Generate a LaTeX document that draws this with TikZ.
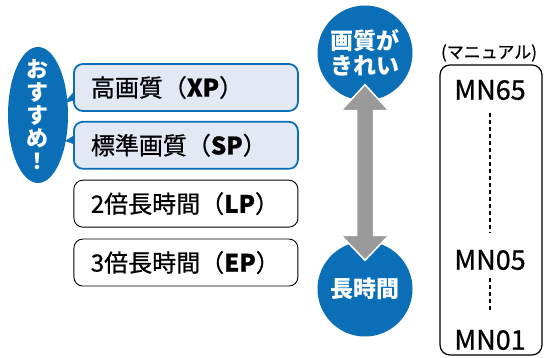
\documentclass[tikz,border=0pt]{standalone}
\usepackage{fontspec}
\setmainfont{Noto Sans CJK JP}
\newfontfamily\boxfont{Noto Sans CJK JP}[FakeBold=0.8]
\usetikzlibrary{positioning, shapes.geometric, calc}
\definecolor{recblue}{HTML}{0B6FB8}
\definecolor{reclight}{HTML}{E2E9F5}
\definecolor{arrowgray}{HTML}{9A9A9A}
\tikzset{
    modebox/.style={draw, rounded corners=9pt, minimum height=47pt, inner xsep=8pt,
        text width=208pt, align=left, anchor=west, execute at begin node={\hspace*{9pt}},
        font=\boxfont\fontsize{24}{24}\selectfont},
    recbox/.style={modebox, draw=recblue, line width=1.8pt, fill=reclight},
    plainbox/.style={modebox, draw=black, line width=0.9pt},
    badge/.style={circle, fill=recblue, minimum size=95pt, inner sep=0pt, text=white,
        align=center, font=\bfseries\fontsize{23}{25}\selectfont},
    mnlabel/.style={font=\boxfont\fontsize{27}{27}\selectfont},
    mndots/.style={line width=2.6pt, dash pattern=on 4pt off 3pt}
}

\begin{document}
\begin{tikzpicture}[x=1pt, y=-1pt]
    \useasboundingbox (0,0) rectangle (544,358);
    % recording modes
    \node[recbox] (xp) at (73,87.5) {高画質（\textbf{XP}）};
    \node[recbox, below=9pt of xp] (sp) {標準画質（\textbf{SP}）};
    \node[plainbox, below=10pt of sp] (lp) {2倍長時間（\textbf{LP}）};
    \node[plainbox, below=11pt of lp] (ep) {3倍長時間（\textbf{EP}）};
    % recommended badge
    \node[ellipse, fill=recblue, minimum width=60pt, minimum height=136pt, inner sep=0pt] (osusume) at (38,115) {};
    \node[text=white, align=center, font=\bfseries\fontsize{22}{23}\selectfont] (osusumetext) at (osusume.center) {お\\す\\す\\め\\！};
    \fill[recblue] ($(xp.west)+(1,4)$) -- ($(xp.west)+(1,13)$) -- (64,103) -- cycle;
    \fill[recblue] ($(sp.west)+(1,-10)$) -- ($(sp.west)+(1,-1)$) -- (65,141) -- cycle;
    % quality scale
    \node[badge] (good) at (365,53) {画質が\\きれい};
    \node[badge] (long) at (365,289) {長時間};
    \coordinate (uptip) at ($(good.south)+(0,-16)$);
    \coordinate (dntip) at ($(long.north)+(0,19)$);
    \filldraw[fill=arrowgray, draw=white, line width=1.5pt]
        (uptip) -- ($(uptip)+(24,26)$) -- ($(uptip)+(8.5,26)$)
        -- ($(dntip)+(8.5,-25)$) -- ($(dntip)+(24,-25)$) -- (dntip)
        -- ($(dntip)+(-24,-25)$) -- ($(dntip)+(-8.5,-25)$)
        -- ($(uptip)+(-8.5,26)$) -- ($(uptip)+(-24,26)$) -- cycle;
    % manual range
    \node[font=\boxfont\fontsize{17}{17}\selectfont] (manual) at (489,53) {(マニュアル)};
    \node[draw, line width=1.2pt, rounded corners=10pt, minimum width=102pt, minimum height=290pt] (list) at (491,210) {};
    \node[mnlabel] (mn65) at (490,90) {MN65};
    \node[mnlabel] (mn05) at (490,260) {MN05};
    \node[mnlabel] (mn01) at (490,340) {MN01};
    \draw[mndots, shorten <=9pt, shorten >=14pt] (mn65.south) -- (mn05.north);
    \draw[mndots, shorten <=4pt, shorten >=14pt] (mn05.south) -- (mn01.north);
\end{tikzpicture}
\end{document}
